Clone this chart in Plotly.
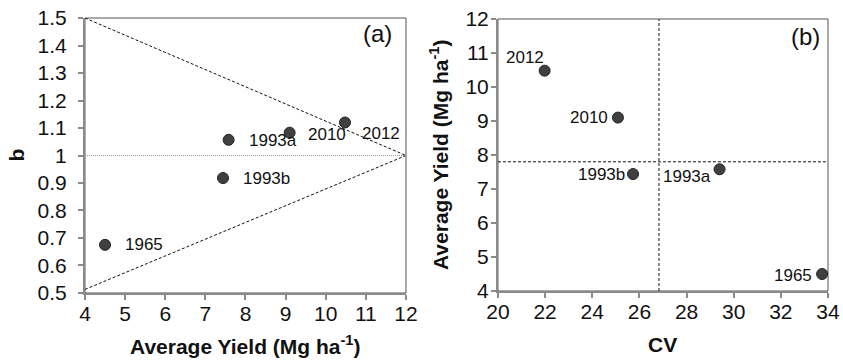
import plotly.graph_objects as go

# Yield stability data by period
periods = ["1965", "1993b", "1993a", "2010", "2012"]
avg_yield = [4.50, 7.44, 7.58, 9.10, 10.48]      # Mg ha-1
b_coef = [0.675, 0.918, 1.057, 1.083, 1.120]
cv = [33.75, 25.73, 29.40, 25.09, 21.98]

# Reference lines for panel (a)
upper_x, upper_y = [4, 12], [1.5, 1.0]
lower_x, lower_y = [4, 12], [0.513, 1.0]
unity_x, unity_y = [4, 12], [1.0, 1.0]

# Quadrant lines for panel (b)
cv_ref = 26.83
yield_ref = 7.80

# Label offsets (pixels) for each period in each panel
a_label_shift = {"1965": (18, 0), "1993b": (18, 0), "1993a": (18, -1), "2010": (16, -2), "2012": (15, -11)}
b_label_shift = {"1965": (-8, -2), "1993b": (-6, 0), "1993a": (-7, -7), "2010": (-8, 0), "2012": (1, 13)}

FONT = "Liberation Sans, Arial, sans-serif"
AXIS_GREY = "#8a8a8a"
DOT_FILL = "#404040"

fig = go.Figure()

dash = "3px,2px"
fig.add_trace(go.Scatter(x=upper_x, y=upper_y, mode="lines", line=dict(color="#111", width=1, dash=dash),
                         xaxis="x", yaxis="y", hoverinfo="skip"))
fig.add_trace(go.Scatter(x=lower_x, y=lower_y, mode="lines", line=dict(color="#111", width=1, dash=dash),
                         xaxis="x", yaxis="y", hoverinfo="skip"))
fig.add_trace(go.Scatter(x=unity_x, y=unity_y, mode="lines", line=dict(color="#9a9a9a", width=1, dash="1px,1px"),
                         xaxis="x", yaxis="y", hoverinfo="skip"))
fig.add_trace(go.Scatter(x=avg_yield, y=b_coef, mode="markers",
                         marker=dict(size=11, color=DOT_FILL, line=dict(color="#222", width=1)),
                         xaxis="x", yaxis="y"))

fig.add_trace(go.Scatter(x=[cv_ref, cv_ref], y=[4, 12], mode="lines", line=dict(color="#111", width=1, dash=dash),
                         xaxis="x2", yaxis="y2", hoverinfo="skip"))
fig.add_trace(go.Scatter(x=[20, 34], y=[yield_ref, yield_ref], mode="lines", line=dict(color="#111", width=1, dash=dash),
                         xaxis="x2", yaxis="y2", hoverinfo="skip"))
fig.add_trace(go.Scatter(x=cv, y=avg_yield, mode="markers",
                         marker=dict(size=11, color=DOT_FILL, line=dict(color="#222", width=1)),
                         xaxis="x2", yaxis="y2"))

annotations = []
for p, xv, yv in zip(periods, avg_yield, b_coef):
    dx, dy = a_label_shift[p]
    annotations.append(dict(x=xv, y=yv, xref="x", yref="y", text=p, showarrow=False,
                            xanchor="left", yanchor="middle", xshift=dx, yshift=dy,
                            font=dict(family=FONT, size=17, color="#111")))
for p, xv, yv in zip(periods, cv, avg_yield):
    dx, dy = b_label_shift[p]
    annotations.append(dict(x=xv, y=yv, xref="x2", yref="y2", text=p, showarrow=False,
                            xanchor="right", yanchor="middle", xshift=dx, yshift=dy,
                            font=dict(family=FONT, size=17, color="#111")))

annotations += [
    dict(x=1, y=1, xref="x domain", yref="y domain", text="(a)", showarrow=False,
         xanchor="right", yanchor="middle", xshift=-12, yshift=-15, font=dict(family=FONT, size=24, color="#111")),
    dict(x=1, y=1, xref="x2 domain", yref="y2 domain", text="(b)", showarrow=False,
         xanchor="right", yanchor="middle", xshift=-6, yshift=-18, font=dict(family=FONT, size=24, color="#111")),
    dict(x=0.5, y=0.045, xref="x domain", yref="paper", text="<b>Average Yield (Mg ha<sup>-1</sup>)</b>",
         showarrow=False, xanchor="center", yanchor="middle", font=dict(family=FONT, size=21, color="#111")),
    dict(x=0.5, y=0.045, xref="x2 domain", yref="paper", text="<b>CV</b>",
         showarrow=False, xanchor="center", yanchor="middle", font=dict(family=FONT, size=21, color="#111")),
    dict(x=0.019, y=0.5, xref="paper", yref="y domain", text="<b>b</b>", textangle=-90,
         showarrow=False, xanchor="center", yanchor="middle", font=dict(family=FONT, size=21, color="#111")),
    dict(x=0.5208, y=0.5, xref="paper", yref="y2 domain", text="<b>Average Yield (Mg ha<sup>-1</sup>)</b>",
         textangle=-90, showarrow=False, xanchor="center", yanchor="middle",
         font=dict(family=FONT, size=21, color="#111")),
]

# Thin frame around each plot area; left/bottom axis lines drawn over it
shapes = [
    dict(type="rect", xref="x domain", yref="y domain", x0=0, x1=1, y0=0, y1=1,
         line=dict(color="#555", width=1), layer="below"),
    dict(type="rect", xref="x2 domain", yref="y2 domain", x0=0, x1=1, y0=0, y1=1,
         line=dict(color="#555", width=1), layer="below"),
]

axis_common = dict(showgrid=False, zeroline=False, showline=True, linecolor=AXIS_GREY, linewidth=2,
                   ticks="outside", ticklen=5, tickwidth=1.5, tickcolor=AXIS_GREY, automargin=False,
                   tickfont=dict(family=FONT, size=21, color="#111"))

fig.update_layout(
    width=843, height=361,
    margin=dict(l=0, r=0, t=0, b=0, autoexpand=False),
    paper_bgcolor="white", plot_bgcolor="white",
    showlegend=False,
    xaxis=dict(domain=[0.1008, 0.4816], range=[4, 12], dtick=1, anchor="y",
               ticklabelstandoff=-4, **axis_common),
    yaxis=dict(domain=[0.1884, 0.9501], range=[0.5, 1.5], anchor="x",
               tickvals=[0.5, 0.6, 0.7, 0.8, 0.9, 1.0, 1.1, 1.2, 1.3, 1.4, 1.5],
               ticktext=["0.5", "0.6", "0.7", "0.8", "0.9", "1", "1.1", "1.2", "1.3", "1.4", "1.5"],
               ticklabelstandoff=7, **axis_common),
    xaxis2=dict(domain=[0.5907, 0.9822], range=[20, 34], dtick=2, anchor="y2",
                ticklabelstandoff=-4, **axis_common),
    yaxis2=dict(domain=[0.1939, 0.9474], range=[4, 12], dtick=1, anchor="x2",
                ticklabelstandoff=-2, **axis_common),
    annotations=annotations,
    shapes=shapes,
)

fig.write_html("out.html")
